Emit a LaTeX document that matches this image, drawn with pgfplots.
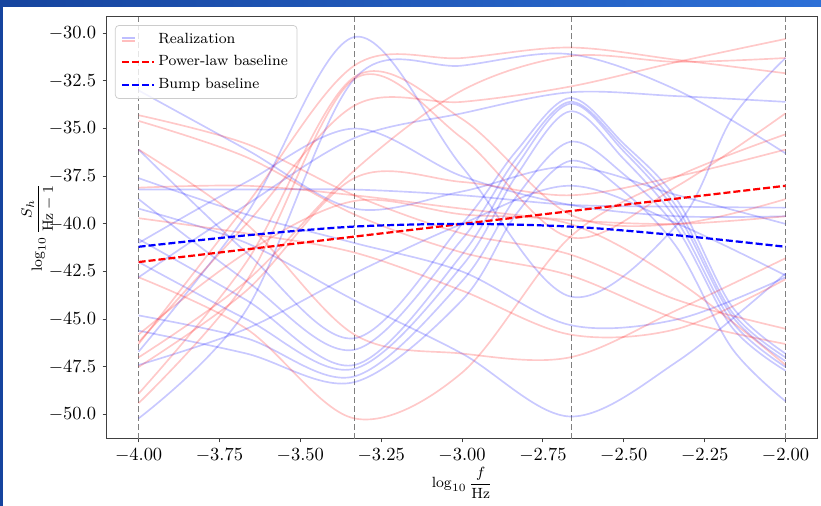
\documentclass[border=0pt]{standalone}
\usepackage{pgfplots}
\pgfplotsset{compat=1.18}
\definecolor{frameA}{RGB}{22,68,158}
\definecolor{frameB}{RGB}{45,112,215}
\begin{document}
\begin{tikzpicture}
\useasboundingbox (0,0) rectangle (444.2pt,273.7pt);
\fill[left color=frameA, right color=frameB] (0,270.1pt) rectangle (444.2pt,273.7pt);
\fill[frameA] (0,0) rectangle (1.8pt,273.7pt);
\pgfplotsset{
  real/.style={line width=0.9pt, opacity=0.21, smooth, tension=0.55, forget plot},
  vline/.style={black!50, line width=0.75pt, dash pattern=on 3.2pt off 1.6pt, forget plot},
}
\begin{axis}[
  at={(57.5pt,36.4pt)}, anchor=south west,
  scale only axis, width=385pt, height=228.3pt,
  xmin=-4.1, xmax=-1.9, ymin=-51.26, ymax=-29.13,
  xtick={-4,-3.75,-3.5,-3.25,-3,-2.75,-2.5,-2.25,-2},
  ytick={-50,-47.5,-45,-42.5,-40,-37.5,-35,-32.5,-30},
  xticklabel style={/pgf/number format/.cd, fixed, fixed zerofill, precision=2},
  yticklabel style={/pgf/number format/.cd, fixed, fixed zerofill, precision=1},
  tick align=outside, tick pos=left, major tick length=2pt,
  tick style={black!75, line width=0.6pt},
  axis line style={black!75, line width=0.6pt},
  label style={font=\fontsize{8.5}{10}\selectfont},
  xlabel={$\log_{10}\displaystyle\frac{f}{\mathrm{Hz}}$},
  ylabel={$\log_{10}\displaystyle\frac{S_h}{\mathrm{Hz}-1}$},
  x label style={at={(axis description cs:0.5,-0.105)}, anchor=center},
  y label style={at={(axis description cs:-0.096,0.5)}, anchor=center},
  legend cell align=left,
  legend style={at={(0.0122,0.980)}, anchor=north west, font=\footnotesize,
    draw=black!20, rounded corners=2pt, fill=white, fill opacity=0.8, text opacity=1,
    row sep=1.2pt},
]
% knot lines
\addplot[vline] coordinates {(-4,-51.26) (-4,-29.13)};
\addplot[vline] coordinates {(-3.333333,-51.26) (-3.333333,-29.13)};
\addplot[vline] coordinates {(-2.662,-51.26) (-2.662,-29.13)};
\addplot[vline] coordinates {(-2,-51.26) (-2,-29.13)};

% blue realizations
\addplot[blue, real] coordinates {(-4,-46.7) (-3.6667,-39.5) (-3.3333,-30.2) (-3,-37.0) (-2.6667,-43.8) (-2.3333,-40.0) (-2.1667,-34.5) (-2,-31.3)};
\addplot[blue, real] coordinates {(-4,-50.2) (-3.6667,-44.5) (-3.3333,-32.4) (-3,-31.7) (-2.6667,-31.1) (-2.3333,-33.0) (-2,-36.3)};
\addplot[blue, real] coordinates {(-4,-33.0) (-3.6667,-36.1) (-3.3333,-39.2) (-3,-38.3) (-2.6667,-37.0) (-2.3333,-38.5) (-2,-40.0)};
\addplot[blue, real] coordinates {(-4,-36.1) (-3.6667,-41.5) (-3.3333,-46.0) (-3,-40.0) (-2.8333,-36.2) (-2.6667,-33.4) (-2.5,-35.8) (-2.3333,-38.8) (-2.1667,-44.3) (-2,-46.8)};
\addplot[blue, real] coordinates {(-4,-38.7) (-3.6667,-43.0) (-3.3333,-46.6) (-3,-40.8) (-2.8333,-36.6) (-2.6667,-33.6) (-2.5,-36.0) (-2.3333,-39.2) (-2.1667,-44.6) (-2,-47.0)};
\addplot[blue, real] coordinates {(-4,-40.8) (-3.6667,-44.0) (-3.3333,-47.4) (-3,-41.6) (-2.8333,-37.0) (-2.6667,-33.7) (-2.5,-36.2) (-2.3333,-39.5) (-2.1667,-44.8) (-2,-47.2)};
\addplot[blue, real] coordinates {(-4,-42.0) (-3.6667,-45.0) (-3.3333,-47.6) (-3,-42.2) (-2.8333,-37.5) (-2.6667,-34.1) (-2.5,-36.6) (-2.3333,-39.9) (-2.1667,-45.1) (-2,-47.5)};
\addplot[blue, real] coordinates {(-4,-44.8) (-3.6667,-46.0) (-3.3333,-48.0) (-3,-43.0) (-2.8333,-38.6) (-2.6667,-35.7) (-2.5,-37.4) (-2.3333,-40.3) (-2.1667,-45.4) (-2,-47.7)};
\addplot[blue, real] coordinates {(-4,-45.6) (-3.6667,-46.8) (-3.3333,-48.3) (-3,-44.0) (-2.8333,-39.5) (-2.6667,-36.7) (-2.5,-38.3) (-2.3333,-41.3) (-2.1667,-46.5) (-2,-49.3)};
\addplot[blue, real] coordinates {(-4,-38.2) (-3.6667,-38.2) (-3.3333,-38.2) (-3,-38.5) (-2.6667,-39.0) (-2.3333,-39.1) (-2,-39.15)};
\addplot[blue, real] coordinates {(-4,-41.0) (-3.6667,-37.8) (-3.3333,-35.0) (-3,-37.5) (-2.6667,-39.0) (-2.3333,-39.6) (-2,-39.6)};
\addplot[blue, real] coordinates {(-4,-42.8) (-3.6667,-39.0) (-3.3333,-35.5) (-3,-34.2) (-2.6667,-33.1) (-2.3333,-33.3) (-2,-33.6)};
\addplot[blue, real] coordinates {(-4,-39.2) (-3.6667,-41.0) (-3.3333,-44.0) (-3,-46.8) (-2.6667,-50.1) (-2.3333,-47.2) (-2,-42.6)};
\addplot[blue, real] coordinates {(-4,-37.6) (-3.6667,-39.5) (-3.3333,-41.0) (-3,-42.5) (-2.6667,-45.3) (-2.3333,-45.0) (-2,-42.8)};
\addplot[blue, real] coordinates {(-4,-47.4) (-3.6667,-45.5) (-3.3333,-42.6) (-3,-40.0) (-2.6667,-38.0) (-2.3333,-40.0) (-2,-42.7)};

% red realizations
\addplot[red, real] coordinates {(-4,-46.3) (-3.6667,-39.0) (-3.3333,-31.7) (-3,-31.3) (-2.6667,-30.75) (-2.3333,-31.4) (-2,-32.1)};
\addplot[red, real] coordinates {(-4,-46.2) (-3.6667,-40.0) (-3.3333,-33.8) (-3,-33.6) (-2.6667,-32.8) (-2.3333,-31.5) (-2,-30.3)};
\addplot[red, real] coordinates {(-4,-48.9) (-3.6667,-42.0) (-3.3333,-32.3) (-3,-34.5) (-2.6667,-39.5) (-2.3333,-40.0) (-2,-38.7)};
\addplot[red, real] coordinates {(-4,-49.4) (-3.6667,-43.0) (-3.3333,-32.4) (-3,-35.5) (-2.6667,-40.7) (-2.3333,-38.0) (-2,-34.2)};
\addplot[red, real] coordinates {(-4,-47.0) (-3.6667,-43.0) (-3.3333,-37.2) (-3,-33.0) (-2.6667,-31.2) (-2.3333,-31.5) (-2,-31.3)};
\addplot[red, real] coordinates {(-4,-34.3) (-3.6667,-35.8) (-3.3333,-38.5) (-3,-40.5) (-2.6667,-41.6) (-2.3333,-44.0) (-2,-45.5)};
\addplot[red, real] coordinates {(-4,-34.6) (-3.6667,-36.5) (-3.3333,-39.5) (-3,-41.5) (-2.6667,-42.7) (-2.3333,-45.0) (-2,-46.3)};
\addplot[red, real] coordinates {(-4,-42.8) (-3.6667,-45.5) (-3.3333,-50.2) (-3,-47.8) (-2.6667,-40.7) (-2.3333,-37.5) (-2,-35.3)};
\addplot[red, real] coordinates {(-4,-36.1) (-3.6667,-40.0) (-3.3333,-45.8) (-3,-46.8) (-2.6667,-47.0) (-2.3333,-44.5) (-2,-41.8)};
\addplot[red, real] coordinates {(-4,-38.1) (-3.6667,-38.0) (-3.3333,-38.5) (-3,-39.2) (-2.6667,-39.8) (-2.3333,-40.0) (-2,-39.6)};
\addplot[red, real] coordinates {(-4,-47.5) (-3.6667,-43.5) (-3.3333,-37.6) (-3,-37.8) (-2.6667,-38.5) (-2.3333,-37.5) (-2,-36.1)};
\addplot[red, real] coordinates {(-4,-45.8) (-3.6667,-41.5) (-3.3333,-38.8) (-3,-39.5) (-2.6667,-40.0) (-2.3333,-43.0) (-2,-47.4)};
\addplot[red, real] coordinates {(-4,-39.7) (-3.6667,-40.5) (-3.3333,-41.5) (-3,-43.5) (-2.6667,-45.8) (-2.3333,-45.5) (-2,-42.9)};

% legend + baselines
\addlegendimage{legend image code/.code={
  \draw[blue, opacity=0.25, line width=0.9pt] (0pt,0.8pt) -- (7pt,0.8pt);
  \draw[red, opacity=0.25, line width=0.9pt] (0pt,-0.8pt) -- (7pt,-0.8pt);
  \path[draw=none] (0pt,0pt) -- (17pt,0pt);}}
\addlegendentry{Realization}
\addplot[red, line width=1.2pt, dash pattern=on 3.8pt off 1.6pt] coordinates {(-4,-42.0) (-3.3333,-40.667) (-2.6667,-39.333) (-2,-38.0)};
\addlegendentry{Power-law baseline}
\addplot[blue, line width=1.2pt, dash pattern=on 3.8pt off 1.6pt, smooth] coordinates {(-4,-41.2) (-3.6667,-40.6) (-3.3333,-40.14) (-3,-40.0) (-2.6667,-40.14) (-2.3333,-40.6) (-2,-41.2)};
\addlegendentry{Bump baseline}
\end{axis}
\end{tikzpicture}
\end{document}
